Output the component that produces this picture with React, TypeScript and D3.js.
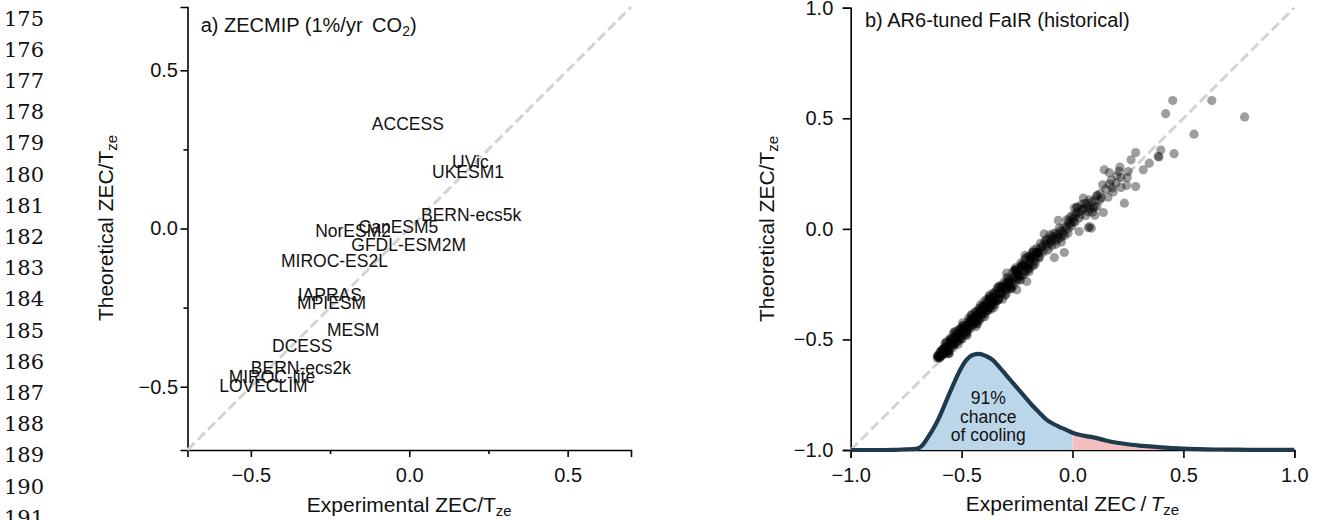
import React, { useRef, useEffect } from "react";
import * as d3 from "d3";

// page line numbers shown down the left margin
const lineNumbers = [175, 176, 177, 178, 179, 180, 181, 182, 183, 184, 185, 186, 187, 188, 189, 190, 191];

// panel a) ZECMIP models: experimental vs theoretical ZEC/Tze
const zecModels = ["ACCESS", "UVic", "UKESM1", "BERN-ecs5k", "CanESM5", "NorESM2", "GFDL-ESM2M", "MIROC-ES2L",
  "IAPRAS", "MPIESM", "MESM", "DCESS", "BERN-ecs2k", "MIROC-lite", "LOVECLIM"];
const zecExp = [-0.118, 0.135, 0.072, 0.037, -0.16, -0.297, -0.183, -0.405, -0.352, -0.354, -0.26, -0.433, -0.5, -0.57, -0.6];
const zecTheo = [0.31, 0.191, 0.16, 0.023, -0.014, -0.026, -0.072, -0.123, -0.229, -0.253, -0.34, -0.39, -0.46, -0.487, -0.518];
const zecTicks = [-0.5, -0.25, 0, 0.25, 0.5];
const zecLabelled = [-0.5, 0, 0.5];

// panel b) FaIR ensemble, [experimental, theoretical]
const fairBandA: [number, number][] = [
  [-0.61, -0.584], [-0.605, -0.573], [-0.6, -0.58], [-0.595, -0.555], [-0.59, -0.567], [-0.585, -0.549], [-0.58, -0.567],
  [-0.575, -0.544], [-0.57, -0.519], [-0.565, -0.552], [-0.56, -0.532], [-0.555, -0.551], [-0.55, -0.502], [-0.545, -0.509],
  [-0.54, -0.522], [-0.535, -0.474], [-0.53, -0.519], [-0.525, -0.484], [-0.52, -0.511], [-0.515, -0.458], [-0.51, -0.486],
  [-0.505, -0.457], [-0.5, -0.498], [-0.495, -0.461], [-0.49, -0.436], [-0.485, -0.468], [-0.48, -0.449], [-0.475, -0.468],
  [-0.47, -0.419], [-0.465, -0.426], [-0.46, -0.438], [-0.455, -0.391], [-0.45, -0.436], [-0.445, -0.401], [-0.44, -0.428],
  [-0.435, -0.374], [-0.43, -0.403], [-0.425, -0.374], [-0.42, -0.415], [-0.415, -0.378], [-0.41, -0.352], [-0.405, -0.385],
  [-0.4, -0.366], [-0.395, -0.385], [-0.39, -0.336], [-0.385, -0.342], [-0.38, -0.355], [-0.375, -0.308], [-0.37, -0.353],
  [-0.365, -0.318], [-0.36, -0.344], [-0.355, -0.291], [-0.35, -0.32],
  [-0.345, -0.295], [-0.337, -0.324], [-0.329, -0.258], [-0.321, -0.291], [-0.313, -0.254], [-0.305, -0.301], [-0.297, -0.254],
  [-0.289, -0.222], [-0.281, -0.259], [-0.273, -0.234], [-0.265, -0.255], [-0.257, -0.193], [-0.249, -0.199], [-0.241, -0.213],
  [-0.233, -0.154], [-0.225, -0.206], [-0.217, -0.162], [-0.209, -0.191], [-0.201, -0.125], [-0.193, -0.158], [-0.185, -0.12],
  [-0.177, -0.168], [-0.169, -0.121], [-0.161, -0.088], [-0.153, -0.126],
];
const fairBandB: [number, number][] = [
  [-0.602, -0.584], [-0.592, -0.555], [-0.582, -0.56], [-0.572, -0.535], [-0.562, -0.561], [-0.552, -0.495], [-0.542, -0.526],
  [-0.532, -0.488], [-0.522, -0.491], [-0.512, -0.505], [-0.502, -0.447], [-0.492, -0.47], [-0.482, -0.446], [-0.472, -0.457],
  [-0.462, -0.409], [-0.452, -0.425], [-0.442, -0.4], [-0.432, -0.426], [-0.422, -0.359], [-0.412, -0.391], [-0.402, -0.353],
  [-0.392, -0.356], [-0.382, -0.37], [-0.372, -0.311], [-0.362, -0.335], [-0.352, -0.311],
  [-0.341, -0.324], [-0.325, -0.262], [-0.309, -0.276], [-0.293, -0.243], [-0.277, -0.269], [-0.261, -0.185], [-0.245, -0.219],
  [-0.229, -0.169], [-0.213, -0.169], [-0.197, -0.181], [-0.181, -0.107], [-0.165, -0.132],
];
const fairBandC: [number, number][] = [
  [-0.607, -0.578], [-0.597, -0.583], [-0.587, -0.545], [-0.577, -0.553], [-0.567, -0.532], [-0.557, -0.548], [-0.547, -0.499],
  [-0.537, -0.517], [-0.527, -0.499], [-0.517, -0.476], [-0.507, -0.494], [-0.497, -0.461], [-0.487, -0.461], [-0.477, -0.443],
  [-0.467, -0.448], [-0.457, -0.41], [-0.447, -0.417], [-0.437, -0.397], [-0.427, -0.413], [-0.417, -0.364], [-0.407, -0.382],
  [-0.397, -0.363], [-0.387, -0.341], [-0.377, -0.359], [-0.367, -0.326], [-0.357, -0.326],
  [-0.333, -0.292], [-0.317, -0.292], [-0.301, -0.247], [-0.285, -0.248], [-0.269, -0.222], [-0.253, -0.231], [-0.237, -0.177],
  [-0.221, -0.188], [-0.205, -0.163], [-0.189, -0.135], [-0.173, -0.146], [-0.157, -0.107],
];
const fairBandD: [number, number][] = [
  [-0.6085, -0.573], [-0.5985, -0.56], [-0.5885, -0.573], [-0.5785, -0.538], [-0.5685, -0.511], [-0.5585, -0.565],
  [-0.5485, -0.51], [-0.5385, -0.536], [-0.5285, -0.464], [-0.5185, -0.493], [-0.5085, -0.453], [-0.4985, -0.498],
  [-0.4885, -0.44], [-0.4785, -0.478], [-0.4685, -0.403], [-0.4585, -0.449], [-0.4485, -0.402], [-0.4385, -0.376],
  [-0.4285, -0.43], [-0.4185, -0.375], [-0.4085, -0.401], [-0.3985, -0.328], [-0.3885, -0.358], [-0.3785, -0.318],
  [-0.3685, -0.363], [-0.3585, -0.305],
  [-0.349, -0.343], [-0.339, -0.269], [-0.329, -0.314], [-0.319, -0.268], [-0.309, -0.241], [-0.299, -0.295], [-0.289, -0.241],
  [-0.279, -0.266], [-0.269, -0.194], [-0.259, -0.223], [-0.249, -0.183], [-0.239, -0.229], [-0.229, -0.17], [-0.219, -0.208],
  [-0.209, -0.133], [-0.199, -0.179], [-0.189, -0.133], [-0.179, -0.106], [-0.169, -0.16], [-0.159, -0.105], [-0.149, -0.131],
];
const fairBandE: [number, number][] = [
  [-0.6035, -0.576], [-0.5935, -0.575], [-0.5835, -0.545], [-0.5735, -0.562], [-0.5635, -0.53], [-0.5535, -0.504],
  [-0.5435, -0.517], [-0.5335, -0.525], [-0.5235, -0.478], [-0.5135, -0.48], [-0.5035, -0.486], [-0.4935, -0.437],
  [-0.4835, -0.475], [-0.4735, -0.442], [-0.4635, -0.422], [-0.4535, -0.42], [-0.4435, -0.419], [-0.4335, -0.389],
  [-0.4235, -0.406], [-0.4135, -0.374], [-0.4035, -0.348], [-0.3935, -0.361], [-0.3835, -0.369], [-0.3735, -0.322],
  [-0.3635, -0.324], [-0.3535, -0.33], [-0.3435, -0.281], [-0.3335, -0.319], [-0.3235, -0.286], [-0.3135, -0.266],
  [-0.3035, -0.264], [-0.2935, -0.263], [-0.2835, -0.233], [-0.2735, -0.25], [-0.2635, -0.218], [-0.2535, -0.192],
  [-0.2435, -0.205], [-0.2335, -0.213], [-0.2235, -0.166], [-0.2135, -0.168], [-0.2035, -0.174], [-0.1935, -0.125],
  [-0.1835, -0.163], [-0.1735, -0.13], [-0.1635, -0.11], [-0.1535, -0.108],
];
const fairBandF: [number, number][] = [
  [-0.575, -0.518], [-0.555, -0.562], [-0.535, -0.468], [-0.515, -0.522], [-0.495, -0.425], [-0.475, -0.482],
  [-0.455, -0.387], [-0.435, -0.442], [-0.415, -0.344], [-0.395, -0.397], [-0.375, -0.3], [-0.355, -0.357],
  [-0.335, -0.262], [-0.315, -0.318], [-0.295, -0.219], [-0.275, -0.272], [-0.255, -0.175], [-0.235, -0.232],
  [-0.215, -0.138], [-0.195, -0.193], [-0.175, -0.096],
];
const fairSpread: [number, number][] = [
  [-0.387, -0.32], [-0.357, -0.29], [-0.297, -0.275], [-0.251, -0.275], [-0.297, -0.2], [-0.259, -0.185], [-0.229, -0.162],
  [-0.206, -0.238], [-0.214, -0.12], [-0.191, -0.14], [-0.145, -0.066], [-0.14, -0.11], [-0.135, -0.075], [-0.128, -0.023],
  [-0.12, -0.05], [-0.115, -0.08], [-0.11, -0.095], [-0.105, -0.065], [-0.101, -0.027], [-0.095, -0.06], [-0.09, -0.035],
  [-0.085, -0.02], [-0.082, -0.13], [-0.075, -0.07], [-0.07, -0.035], [-0.065, -0.045], [-0.064, 0.038], [-0.06, 0.003],
  [-0.055, -0.01], [-0.05, -0.06], [-0.045, -0.027], [-0.04, 0.005], [-0.037, -0.107], [-0.03, 0.01], [-0.026, 0.041],
  [-0.02, -0.02], [-0.015, 0.02], [-0.011, 0.053], [-0.004, 0.012], [0.0, 0.06], [0.004, 0.033], [0.008, 0.094], [0.01, 0.03],
  [0.015, 0.07], [0.019, 0.098], [0.021, 0.097], [0.03, -0.012], [0.03, 0.05], [0.04, 0.11], [0.041, 0.082], [0.049, 0.139],
  [0.056, 0.094], [0.06, 0.06], [0.065, 0.115], [0.071, 0.077], [0.071, 0.005], [0.076, 0.131], [0.077, 0.01], [0.085, 0.003],
  [0.085, 0.12], [0.09, 0.075], [0.094, 0.095], [0.098, 0.101], [0.101, 0.062], [0.109, 0.149], [0.11, 0.1], [0.112, 0.151],
  [0.121, 0.128], [0.125, 0.16], [0.136, 0.199], [0.139, 0.074], [0.143, 0.267], [0.15, 0.18], [0.16, 0.143], [0.166, 0.254],
  [0.166, 0.202], [0.175, 0.22], [0.18, 0.185], [0.184, 0.167], [0.196, 0.207], [0.2, 0.24], [0.21, 0.26], [0.214, 0.279],
  [0.219, 0.232], [0.219, 0.187], [0.234, 0.116], [0.244, 0.197], [0.247, 0.232], [0.251, 0.259], [0.264, 0.312],
  [0.285, 0.345], [0.285, 0.191], [0.319, 0.267], [0.346, 0.297], [0.386, 0.328], [0.39, 0.325], [0.398, 0.356],
  [0.42, 0.521], [0.452, 0.58], [0.458, 0.34], [0.548, 0.428], [0.628, 0.58], [0.776, 0.506],
  [-0.148, -0.095], [-0.142, -0.085], [-0.132, -0.1], [-0.125, -0.06], [-0.118, -0.07], [-0.112, -0.045], [-0.1, -0.05],
  [-0.092, -0.075], [-0.088, -0.045], [-0.078, -0.05], [-0.072, -0.02], [-0.062, -0.025], [-0.052, -0.04], [-0.042, -0.015],
  [-0.035, -0.03], [-0.025, 0.0], [-0.018, 0.035], [-0.008, 0.025], [0.002, 0.045], [0.012, 0.055], [0.025, 0.075],
  [0.035, 0.065], [0.045, 0.09], [0.055, 0.115], [0.07, 0.1], [0.08, 0.09], [0.1, 0.13], [0.13, 0.14],
];
const fairTicks = [-1, -0.5, 0, 0.5, 1];

// density of experimental ZEC/Tze, drawn as height above the bottom axis
const kdeX = [-1.0, -0.9, -0.8, -0.75, -0.72, -0.7, -0.68, -0.65, -0.62, -0.6, -0.57, -0.54, -0.51, -0.48, -0.45, -0.42,
  -0.39, -0.36, -0.33, -0.3, -0.27, -0.24, -0.21, -0.18, -0.15, -0.12, -0.09, -0.06, -0.03, 0.0, 0.05, 0.1, 0.15, 0.2,
  0.25, 0.3, 0.35, 0.4, 0.5, 0.6, 0.7, 0.8, 0.9, 1.0];
const kdeH = [0, 0, 0.001, 0.003, 0.004, 0.006, 0.018, 0.06, 0.11, 0.15, 0.22, 0.29, 0.355, 0.405, 0.43, 0.435,
  0.425, 0.408, 0.375, 0.34, 0.305, 0.27, 0.235, 0.2, 0.17, 0.14, 0.12, 0.105, 0.092, 0.078, 0.065, 0.056, 0.043, 0.033,
  0.026, 0.02, 0.016, 0.012, 0.006, 0.003, 0.002, 0.001, 0.001, 0.001];
const coolingText = ["91%", "chance", "of cooling"];

const SANS = "'Liberation Sans', Arial, Helvetica, sans-serif";
const fmt = (v: number) => (v < 0 ? "\u2212" : "") + Math.abs(v).toFixed(1);

export default function App() {
  const ref = useRef<SVGSVGElement>(null);

  useEffect(() => {
    const svg = d3.select(ref.current);
    svg.selectAll("*").remove();

    // line numbers
    svg.append("g")
      .selectAll("text")
      .data(lineNumbers)
      .enter()
      .append("text")
      .attr("x", 44)
      .attr("y", (d, i) => 25.5 + i * 31.2)
      .attr("text-anchor", "end")
      .attr("font-family", "'DejaVu Serif', serif")
      .attr("font-size", 21)
      .attr("fill", "#111")
      .text(d => d);

    // ---------- panel a ----------
    const xA = d3.scaleLinear().domain([-0.7, 0.7]).range([187.5, 631]);
    const yA = d3.scaleLinear().domain([-0.7, 0.7]).range([450, 7]);
    const gA = svg.append("g");

    const axA_x = gA.append("g").attr("transform", "translate(0,450)")
      .call(d3.axisBottom(xA).tickValues(zecTicks).tickSizeOuter(0).tickSize(7).tickPadding(11)
        .tickFormat(d => (zecLabelled.includes(+d) ? fmt(+d) : "")));
    const axA_y = gA.append("g").attr("transform", "translate(187.5,0)")
      .call(d3.axisLeft(yA).tickValues(zecTicks).tickSizeOuter(0).tickSize(7).tickPadding(2.5)
        .tickFormat(d => (zecLabelled.includes(+d) ? fmt(+d) : "")));
    axA_x.selectAll(".tick line").filter((d: any) => !zecLabelled.includes(d)).attr("y2", 4);
    axA_y.selectAll(".tick line").filter((d: any) => !zecLabelled.includes(d)).attr("x2", -4);

    gA.append("line")
      .attr("x1", xA(-0.7)).attr("y1", yA(-0.7))
      .attr("x2", xA(0.7)).attr("y2", yA(0.7))
      .attr("stroke", "#d3d3d3").attr("stroke-width", 3).attr("stroke-dasharray", "10,4.5");

    gA.append("g")
      .selectAll("text")
      .data(zecModels)
      .enter()
      .append("text")
      .attr("x", (d, i) => xA(zecExp[i]))
      .attr("y", (d, i) => yA(zecTheo[i]))
      .attr("font-family", SANS)
      .attr("font-size", 17.5)
      .attr("fill", "#111")
      .text(d => d);

    const tA = gA.append("text").attr("x", 200.7).attr("y", 31.5)
      .attr("font-family", SANS).attr("font-size", 20).attr("fill", "#111");
    tA.append("tspan").text("a) ZECMIP (1%/yr \u2009CO");
    tA.append("tspan").attr("font-size", 14).attr("dy", 4).text("2");
    tA.append("tspan").attr("dy", -4).text(")");

    const xlA = gA.append("text").attr("x", xA(0)).attr("y", 512).attr("text-anchor", "middle")
      .attr("font-family", SANS).attr("font-size", 21).attr("fill", "#111");
    xlA.append("tspan").text("Experimental ZEC/T");
    xlA.append("tspan").attr("font-size", 15).attr("dy", 4).text("ze");

    const ylA = gA.append("text").attr("transform", "translate(112.5,228) rotate(-90)").attr("text-anchor", "middle")
      .attr("font-family", SANS).attr("font-size", 21).attr("fill", "#111");
    ylA.append("tspan").text("Theoretical ZEC/T");
    ylA.append("tspan").attr("font-size", 15).attr("dy", 4).text("ze");

    // ---------- panel b ----------
    const xB = d3.scaleLinear().domain([-1, 1]).range([850.7, 1294.3]);
    const yB = d3.scaleLinear().domain([-1, 1]).range([450, 7.7]);
    const gB = svg.append("g");

    gB.append("g").attr("transform", "translate(0,450)")
      .call(d3.axisBottom(xB).tickValues(fairTicks).tickSizeOuter(0).tickSize(8).tickPadding(10).tickFormat(d => fmt(+d)));
    gB.append("g").attr("transform", "translate(850.7,0)")
      .call(d3.axisLeft(yB).tickValues(fairTicks).tickSizeOuter(0).tickSize(8).tickPadding(9.4).tickFormat(d => fmt(+d)));

    gB.append("line")
      .attr("x1", xB(-1)).attr("y1", yB(-1))
      .attr("x2", xB(1)).attr("y2", yB(1))
      .attr("stroke", "#d3d3d3").attr("stroke-width", 3).attr("stroke-dasharray", "10,4.5");

    const pts = [...fairBandA, ...fairBandB, ...fairBandC, ...fairBandD, ...fairBandE, ...fairBandF, ...fairSpread];
    gB.append("g")
      .selectAll("circle")
      .data(pts)
      .enter()
      .append("circle")
      .attr("cx", d => xB(d[0]))
      .attr("cy", d => yB(d[1]))
      .attr("r", 4.6)
      .attr("fill", "#000")
      .attr("fill-opacity", 0.38);

    const kde = kdeX.map((x, i) => ({ x, h: kdeH[i] }));
    const area = d3.area<{ x: number; h: number }>()
      .x(d => xB(d.x)).y0(yB(-1)).y1(d => yB(-1 + d.h)).curve(d3.curveMonotoneX);
    const line = d3.line<{ x: number; h: number }>()
      .x(d => xB(d.x)).y(d => yB(-1 + d.h)).curve(d3.curveMonotoneX);

    gB.append("path").attr("d", area(kde.filter(d => d.x <= 0))).attr("fill", "#bcd6e9");
    gB.append("path").attr("d", area(kde.filter(d => d.x >= 0))).attr("fill", "#f3bebe");
    gB.append("path").attr("d", line(kde)).attr("fill", "none").attr("stroke", "#1f3a4d")
      .attr("stroke-width", 4.2).attr("stroke-linejoin", "round");

    gB.append("g")
      .selectAll("text")
      .data(coolingText)
      .enter()
      .append("text")
      .attr("x", 988.3)
      .attr("y", (d, i) => 404 + i * 18.5)
      .attr("text-anchor", "middle")
      .attr("font-family", SANS)
      .attr("font-size", 17.5)
      .attr("fill", "#111")
      .text(d => d);

    gB.append("text").attr("x", 865).attr("y", 26.5)
      .attr("font-family", SANS).attr("font-size", 20).attr("fill", "#111")
      .text("b) AR6-tuned FaIR (historical)");

    const xlB = gB.append("text").attr("x", xB(0)).attr("y", 511).attr("text-anchor", "middle")
      .attr("font-family", SANS).attr("font-size", 21).attr("fill", "#111");
    xlB.append("tspan").text("Experimental ZEC\u2009/\u2009");
    xlB.append("tspan").attr("font-style", "italic").text("T");
    xlB.append("tspan").attr("font-size", 15).attr("dy", 4).text("ze");

    const ylB = gB.append("text").attr("transform", "translate(774,229) rotate(-90)").attr("text-anchor", "middle")
      .attr("font-family", SANS).attr("font-size", 21).attr("fill", "#111");
    ylB.append("tspan").text("Theoretical ZEC/T");
    ylB.append("tspan").attr("font-size", 15).attr("dy", 4).text("ze");

    // shared axis styling
    svg.selectAll(".domain").attr("stroke", "#000").attr("stroke-width", 1.6);
    svg.selectAll(".tick line").attr("stroke", "#000").attr("stroke-width", 1.6);
    svg.selectAll(".tick text").attr("font-family", SANS).attr("font-size", 20).attr("fill", "#111");
  }, []);

  return (
    <svg
      ref={ref}
      width={1317}
      height={520}
      style={{ position: "absolute", left: 0, top: 0, background: "#fff" }}
    />
  );
}
